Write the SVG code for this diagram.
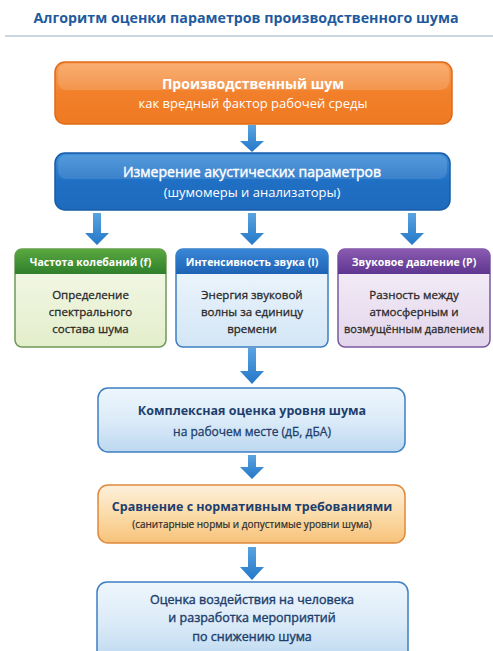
<svg xmlns="http://www.w3.org/2000/svg" width="493" height="651" viewBox="0 0 493 651">
<defs>
<linearGradient id="gOrange" x1="0" y1="0" x2="0" y2="1">
<stop offset="0" stop-color="#f9a25a"/><stop offset="0.5" stop-color="#f27f2a"/><stop offset="1" stop-color="#ee7a22"/>
</linearGradient>
<linearGradient id="gBlue" x1="0" y1="0" x2="0" y2="1">
<stop offset="0" stop-color="#3d8ed8"/><stop offset="0.5" stop-color="#1f6fc4"/><stop offset="1" stop-color="#1e6bbd"/>
</linearGradient>
<linearGradient id="gGreenH" x1="0" y1="0" x2="0" y2="1">
<stop offset="0" stop-color="#5aa83f"/><stop offset="1" stop-color="#2f7f2c"/>
</linearGradient>
<linearGradient id="gBlueH" x1="0" y1="0" x2="0" y2="1">
<stop offset="0" stop-color="#3a86d6"/><stop offset="1" stop-color="#1d63b5"/>
</linearGradient>
<linearGradient id="gPurpleH" x1="0" y1="0" x2="0" y2="1">
<stop offset="0" stop-color="#8a5bb0"/><stop offset="1" stop-color="#5e3590"/>
</linearGradient>
<linearGradient id="gGreenB" x1="0" y1="0" x2="0" y2="1">
<stop offset="0" stop-color="#f6f9ea"/><stop offset="1" stop-color="#e3eecb"/>
</linearGradient>
<linearGradient id="gBlueB" x1="0" y1="0" x2="0" y2="1">
<stop offset="0" stop-color="#f2f8fd"/><stop offset="1" stop-color="#d3e6f6"/>
</linearGradient>
<linearGradient id="gPurpleB" x1="0" y1="0" x2="0" y2="1">
<stop offset="0" stop-color="#f6f1f9"/><stop offset="1" stop-color="#e3d6ec"/>
</linearGradient>
<linearGradient id="gLight" x1="0" y1="0" x2="0" y2="1">
<stop offset="0" stop-color="#eef6fd"/><stop offset="0.5" stop-color="#dcebf8"/><stop offset="1" stop-color="#bcd8f0"/>
</linearGradient>
<linearGradient id="gPeach" x1="0" y1="0" x2="0" y2="1">
<stop offset="0" stop-color="#fdf0dc"/><stop offset="0.5" stop-color="#fbdcaa"/><stop offset="1" stop-color="#f7c27a"/>
</linearGradient>
<linearGradient id="gArrow" x1="0" y1="0" x2="0" y2="1">
<stop offset="0" stop-color="#5aa3e0"/><stop offset="1" stop-color="#2478c8"/>
</linearGradient>
</defs>
<style>
text{font-family:"Open Sans","Noto Sans","DejaVu Sans",sans-serif;text-anchor:middle}
.t{font-size:15px;font-weight:bold;fill:#1f5a9e}
.w1{font-size:14px;font-weight:bold;fill:#ffffff}
.w2{font-size:13px;fill:#ffffff}
.m{font-size:14px;fill:#ffffff;stroke:#ffffff;stroke-width:0.4}
.h{font-size:10.5px;font-weight:bold;fill:#ffffff}
.b{font-size:11.5px;fill:#2a2a2a;stroke:#2a2a2a;stroke-width:0.3}
.d1{font-size:12.5px;font-weight:bold;fill:#1e3f6e}
.d2{font-size:12px;fill:#1e3f6e;stroke:#1e3f6e;stroke-width:0.3}
.d3{font-size:12.5px;fill:#1e3f6e;stroke:#1e3f6e;stroke-width:0.4}
.o2{font-size:10px;fill:#2b2b2b;stroke:#2b2b2b;stroke-width:0.2}
.arrow{fill:url(#gArrow)}
</style>
<rect width="493" height="651" fill="#ffffff"/>
<g id="title">
<text x="246" y="23" class="t" textLength="425" lengthAdjust="spacingAndGlyphs">Алгоритм оценки параметров производственного шума</text>
<line x1="5" y1="36" x2="493" y2="36" stroke="#b9c8d8" stroke-width="1.5"/>
</g>
<g id="connectors">
<path class="arrow" d="M248,125 H256 V141 H264 L252,152 L240,141 H248 Z"/>
<path class="arrow" d="M93,213 H101 V233 H109 L97,245 L85,233 H93 Z"/>
<path class="arrow" d="M248,213 H256 V233 H264 L252,245 L240,233 H248 Z"/>
<path class="arrow" d="M408,213 H416 V233 H424 L412,245 L400,233 H408 Z"/>
<path class="arrow" d="M248,348 H256 V371 H264 L252,384 L240,371 H248 Z"/>
<path class="arrow" d="M248,455 H256 V467 H264 L252,479 L240,467 H248 Z"/>
<path class="arrow" d="M248,547 H256 V567 H264 L252,580 L240,567 H248 Z"/>
</g>
<g id="node-source">
<rect x="55" y="62" width="397" height="62" rx="10" fill="url(#gOrange)" stroke="#e06a18" stroke-width="1.5"/>
<rect x="58" y="64" width="391" height="26" rx="8" fill="#ffffff" opacity="0.15"/>
<text x="253" y="89" class="w1">Производственный шум</text>
<text x="253" y="108" class="w2">как вредный фактор рабочей среды</text>
</g>
<g id="node-measure">
<rect x="55" y="153" width="395" height="57" rx="10" fill="url(#gBlue)" stroke="#175ca8" stroke-width="1.5"/>
<rect x="58" y="155" width="389" height="24" rx="8" fill="#ffffff" opacity="0.12"/>
<text x="252" y="177" class="m">Измерение акустических параметров</text>
<text x="252" y="197" class="w2">(шумомеры и анализаторы)</text>
</g>
<g id="node-frequency">
<rect x="15" y="249" width="151" height="98" rx="7" fill="url(#gGreenB)" stroke="#6f9a55" stroke-width="1.5"/>
<path d="M15,274 V256 a7,7 0 0 1 7,-7 H159 a7,7 0 0 1 7,7 V274 Z" fill="url(#gGreenH)"/>
<text x="90.5" y="266" class="h">Частота колебаний (f)</text>
<text x="90.5" y="299" class="b">Определение</text>
<text x="90.5" y="316" class="b">спектрального</text>
<text x="90.5" y="333" class="b">состава шума</text>
</g>
<g id="node-intensity">
<rect x="176" y="249" width="152" height="98" rx="7" fill="url(#gBlueB)" stroke="#3d7fc2" stroke-width="1.5"/>
<path d="M176,274 V256 a7,7 0 0 1 7,-7 H321 a7,7 0 0 1 7,7 V274 Z" fill="url(#gBlueH)"/>
<text x="252" y="266" class="h">Интенсивность звука (I)</text>
<text x="252" y="299" class="b">Энергия звуковой</text>
<text x="252" y="316" class="b">волны за единицу</text>
<text x="252" y="333" class="b">времени</text>
</g>
<g id="node-pressure">
<rect x="338" y="249" width="152" height="98" rx="7" fill="url(#gPurpleB)" stroke="#7a58a0" stroke-width="1.5"/>
<path d="M338,274 V256 a7,7 0 0 1 7,-7 H483 a7,7 0 0 1 7,7 V274 Z" fill="url(#gPurpleH)"/>
<text x="414" y="266" class="h">Звуковое давление (P)</text>
<text x="414" y="299" class="b">Разность между</text>
<text x="414" y="316" class="b">атмосферным и</text>
<text x="414" y="333" class="b" textLength="140" lengthAdjust="spacingAndGlyphs">возмущённым давлением</text>
</g>
<g id="node-complex">
<rect x="98" y="388" width="307" height="64" rx="10" fill="url(#gLight)" stroke="#3d7fc2" stroke-width="1.5"/>
<text x="252" y="415" class="d1">Комплексная оценка уровня шума</text>
<text x="252" y="436" class="d2">на рабочем месте (дБ, дБА)</text>
</g>
<g id="node-compare">
<rect x="98" y="485" width="307" height="58" rx="10" fill="url(#gPeach)" stroke="#e0893a" stroke-width="1.5"/>
<text x="252" y="511" class="d1">Сравнение с нормативным требованиями</text>
<text x="252" y="528" class="o2">(санитарные нормы и допустимые уровни шума)</text>
</g>
<g id="node-impact">
<rect x="97" y="582" width="311" height="80" rx="10" fill="url(#gLight)" stroke="#3d7fc2" stroke-width="1.5"/>
<text x="252" y="604" class="d3">Оценка воздействия на человека</text>
<text x="252" y="622" class="d3">и разработка мероприятий</text>
<text x="252" y="641" class="d3">по снижению шума</text>
</g>
</svg>
